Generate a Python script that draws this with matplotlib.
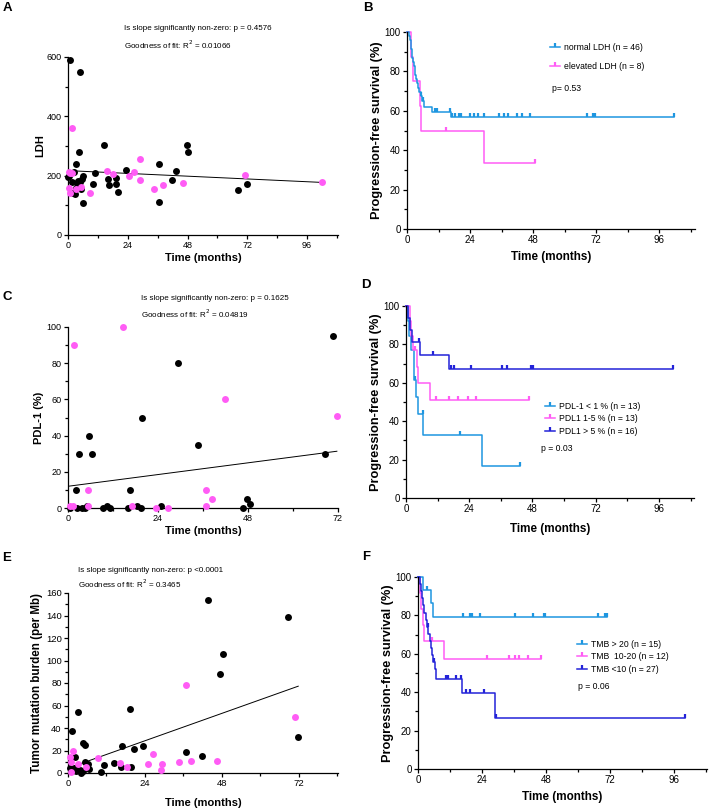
import numpy as np
import matplotlib
matplotlib.use("Agg")
import matplotlib.pyplot as plt
from matplotlib.ticker import MultipleLocator
from matplotlib.lines import Line2D

plt.rcParams['font.family'] = ['Liberation Sans', 'DejaVu Sans']

BLACK = '#000000'
PINK = '#ff5cf5'
LBLUE = '#1e96e0'
DBLUE = '#2323d8'

# ---- A: LDH vs time ----
ldh_black_t = [1, 4.7, 4.3, 3.1, 14.4, 47.7, 48.3, 36.7, 43.4, 41.6, 23.2, 11, 10.2, 16.1, 16.5,
               19.3, 19.3, 20.1, 36.5, 6, 68.2, 71.8, 0, 0.6, 2.6, 1.5, 2, 2.8, 3.6, 4.2, 4.9,
               5.3, 5.7, 6.1, 3.3]
ldh_black_v = [590, 550, 280, 240, 305, 305, 280, 240, 215, 185, 220, 210, 172, 188, 170,
               193, 173, 146, 111, 107, 152, 173, 196, 198, 214, 180, 140, 138, 174, 183, 179,
               155, 190, 200, 160]
ldh_pink_t = [1.7, 0.3, 0.9, 1.7, 0.3, 0.7, 3.1, 5.2, 9, 15.7, 18.1, 24.6, 26.3, 28.9, 29, 34.5,
              38.3, 46.3, 70.9, 101.8]
ldh_pink_v = [360, 211, 210, 208, 160, 140, 154, 163, 140, 216, 205, 198, 212, 256, 185, 155,
              170, 174, 203, 177]
ldh_fit = (217, -0.39)  # intercept, slope

# ---- C: PDL-1 vs time ----
pdl_black_t = [70.7, 29.4, 19.6, 5.6, 3.0, 6.3, 34.7, 68.6, 2.0, 16.6, 47.7, 48.4, 46.6, 24.9,
               18.3, 19.5, 16.1, 0.6, 2.4, 3.6, 4.5, 5.1, 9.4, 10.4, 11.3]
pdl_black_v = [95, 80, 50, 40, 30, 30, 35, 30, 10, 10, 5, 2, 0, 1, 1, 0, 0, 0, 0, 0, 0, 1, 0, 1, 0]
pdl_pink_t = [1.5, 14.6, 41.8, 71.7, 5.2, 36.8, 38.3, 36.8, 17, 23.5, 26.6, 0.4, 1.3, 5.4]
pdl_pink_v = [90, 100, 60, 51, 10, 10, 5, 1, 1, 0, 0, 1, 1, 1]
pdl_fit = (12, 0.27)

# ---- E: TMB vs time ----
tmb_black_t = [43.6, 68.6, 48.3, 47.5, 19.4, 3.2, 1.4, 71.8, 4.7, 5.4, 16.8, 23.5, 20.5, 36.7,
               41.7, 2.1, 5.2, 6.2, 11.2, 14.5, 16.6, 19.5, 6.5, 10.4, 0.5, 1.8, 2.8, 3.6, 3.9,
               4.7, 2.4]
tmb_black_v = [154, 139, 106, 88, 57, 54, 37, 32, 26.5, 25, 24, 24, 21, 19, 15, 14, 10, 8, 7, 9,
               5, 5, 4, 1, 4.5, 4.5, 3, 2.4, 0, 2, 1.5]
tmb_pink_t = [36.7, 70.7, 1.6, 0.5, 0.8, 9.4, 26.5, 16.1, 24.9, 29.4, 34.6, 38.3, 46.5, 29, 18.3,
              1, 3.1, 5.5]
tmb_pink_v = [78, 50, 20, 14, 10, 13, 17, 9, 8, 8, 10, 11, 11, 3, 5, 1, 8, 5]
tmb_fit = (4.3, 1.015)

# ---- B: PFS by LDH ----
b_norm_t = [0, 0.6, 1.0, 1.4, 1.8, 2.2, 2.6, 3.0, 3.4, 3.8, 4.2, 4.7, 5.2, 5.8, 6.4, 9.6, 16.6]
b_norm_s = [100, 97.8, 95.7, 91.3, 87.0, 84.8, 82.6, 78.3, 76.1, 73.9, 71.7, 69.6, 67.4, 65.2,
            61.9, 59.5, 56.7]
b_norm_c = [5.3, 6.2, 10.5, 11.3, 16.3, 17.1, 18.4, 19.7, 20.7, 24.1, 25.4, 26.9, 29.5, 34.9,
            37.0, 38.4, 41.8, 43.7, 46.7, 68.7, 70.8, 71.6, 101.8]
b_elev_t = [0, 1.6, 2.3, 4.8, 5.2, 29.2]
b_elev_s = [100, 87.5, 75, 62.5, 50, 33.3]
b_elev_c = [14.8, 48.6]
b_labels = ['normal LDH (n = 46)', 'elevated LDH (n = 8)']

# ---- D: PFS by PDL-1 ----
d_low_t = [0, 0.6, 1.1, 2.0, 3.0, 3.9, 4.6, 6.5, 28.8]
d_low_s = [100, 92.3, 84.6, 76.9, 61.5, 52.7, 43.9, 32.9, 16.5]
d_low_c = [3.4, 6.3, 20.5, 43.3]
d_mid_t = [0, 1.4, 2.0, 2.8, 4.0, 4.7, 9.2]
d_mid_s = [100, 92.3, 84.6, 76.9, 68.4, 59.8, 51.3]
d_mid_c = [3.3, 11.4, 16.2, 19.6, 23.5, 26.5, 46.5]
d_high_t = [0, 0.6, 1.5, 2.1, 5.2, 16.3]
d_high_s = [100, 93.75, 87.5, 81.25, 74.5, 67.0]
d_high_c = [5.0, 10.4, 17.1, 18.3, 24.8, 36.5, 38.3, 47.5, 48.1, 101.4]
d_labels = ['PDL-1 < 1 % (n = 13)', 'PDL1 1-5 % (n = 13)', 'PDL1 > 5 % (n = 16)']

# ---- F: PFS by TMB ----
f_high_t = [0, 1.9, 4.75, 5.6]
f_high_s = [100, 93.3, 86.2, 79.0]
f_high_c = [3.4, 16.9, 19.4, 20.3, 23.4, 36.5, 43.1, 47.1, 47.8, 67.5, 70.0, 70.9]
f_mid_t = [0, 0.75, 1.25, 1.75, 2.25, 9.75]
f_mid_s = [100, 91.7, 83.3, 75.0, 66.7, 57.1]
f_mid_c = [5.25, 26, 34, 36.25, 37.9, 41.25, 46]
f_low_t = [0, 0.8, 1.2, 1.6, 2.0, 2.4, 3.0, 3.4, 3.9, 4.5, 5.0, 5.3, 5.8, 6.3, 6.8, 16.4, 28.9]
f_low_s = [100, 96.3, 92.6, 88.9, 85.2, 81.5, 77.8, 74.1, 70.4, 66.7, 63.0, 59.3, 55.6, 51.9,
           46.7, 39.7, 26.5]
f_low_c = [3.6, 5.9, 10.6, 11.25, 14.4, 16.0, 18.1, 19.4, 24.75, 29.1, 100]
f_labels = ['TMB > 20 (n = 15)', 'TMB  10-20 (n = 12)', 'TMB <10 (n = 27)']

W, H = 709, 809
fig = plt.figure(figsize=(W / 100, H / 100), dpi=100)


def box(l, t, r, b):
    return [l / W, 1 - b / H, (r - l) / W, (b - t) / H]


def style(ax, xmax, ymax, ymaj, ymin, tsize):
    for s in ['top', 'right']:
        ax.spines[s].set_visible(False)
    for s in ['left', 'bottom']:
        ax.spines[s].set_linewidth(0.9)
    ax.set_xlim(0, xmax)
    ax.set_ylim(0, ymax)
    ax.xaxis.set_major_locator(MultipleLocator(24))
    ax.xaxis.set_minor_locator(MultipleLocator(12))
    ax.yaxis.set_major_locator(MultipleLocator(ymaj))
    ax.yaxis.set_minor_locator(MultipleLocator(ymin))
    ax.tick_params(which='major', direction='out', length=3, width=0.9, labelsize=tsize, pad=1.5)
    ax.tick_params(which='minor', direction='out', length=2, width=0.9)


def scatter_panel(ax, bt, bv, pt, pv, fit):
    xs = np.array([0, max(bt + pt)])
    ax.plot(xs, fit[0] + fit[1] * xs, color='black', lw=0.7, zorder=1)
    ax.scatter(bt, bv, s=25, color=BLACK, zorder=3, clip_on=False, linewidths=0)
    ax.scatter(pt, pv, s=25, color=PINK, zorder=3, clip_on=False, linewidths=0)


def km(ax, t, s, cens, color):
    t = list(t) + [max(max(cens), t[-1])]
    s = list(s) + [s[-1]]
    ax.step(t, s, where='post', color=color, lw=1.1, clip_on=False)
    idx = np.searchsorted(t, cens, side='right') - 1
    cy = np.array(s)[idx]
    ax.plot(cens, cy, ls='none', marker=2, ms=3.2, mew=1.6, color=color, clip_on=False)


def km_legend(ax, colors, labels, x, y, spacing):
    hs = [Line2D([], [], color=c, lw=1.1, marker=2, ms=3.2, mew=1.6) for c in colors]
    ax.legend(hs, labels, loc='upper left', bbox_to_anchor=(x, y), frameon=False,
              fontsize=6.2, handlelength=1.2, handletextpad=0.45, borderpad=0,
              borderaxespad=0, labelspacing=spacing, numpoints=1)


# A
axA = fig.add_axes(box(68, 57, 338, 235))
scatter_panel(axA, ldh_black_t, ldh_black_v, ldh_pink_t, ldh_pink_v, ldh_fit)
style(axA, 108.4, 600, 200, 100, 6.5)
axA.set_xlabel('Time (months)', fontsize=8, fontweight='bold', labelpad=2)
axA.set_ylabel('LDH', fontsize=8, fontweight='bold', labelpad=1)

# C
axC = fig.add_axes(box(68, 327, 338, 508))
scatter_panel(axC, pdl_black_t, pdl_black_v, pdl_pink_t, pdl_pink_v, pdl_fit)
style(axC, 72, 100, 20, 10, 6.5)
axC.set_xlabel('Time (months)', fontsize=8, fontweight='bold', labelpad=2)
axC.set_ylabel('PDL-1 (%)', fontsize=8, fontweight='bold', labelpad=2)

# E
axE = fig.add_axes(box(68, 593, 338, 773))
scatter_panel(axE, tmb_black_t, tmb_black_v, tmb_pink_t, tmb_pink_v, tmb_fit)
style(axE, 84.2, 160, 20, 10, 6.8)
axE.set_xlabel('Time (months)', fontsize=8, fontweight='bold', labelpad=7)
axE.set_ylabel('Tumor mutation burden (per Mb)', fontsize=8.4, fontweight='bold', labelpad=2)

# B
axB = fig.add_axes(box(407, 32, 695, 229))
km(axB, b_elev_t, b_elev_s, b_elev_c, PINK)
km(axB, b_norm_t, b_norm_s, b_norm_c, LBLUE)
style(axB, 109.7, 100, 20, 10, 7)
axB.set_xlabel('Time (months)', fontsize=8.4, fontweight='bold', labelpad=4)
axB.set_ylabel('Progression-free survival (%)', fontsize=9.2, fontweight='bold', labelpad=1)
km_legend(axB, [LBLUE, PINK], b_labels, 0.497, 0.945, 1.15)
axB.text(0.503, 0.711, 'p= 0.53', transform=axB.transAxes, fontsize=6.2, va='center')

# D
axD = fig.add_axes(box(406, 306, 694, 498))
km(axD, d_low_t, d_low_s, d_low_c, LBLUE)
km(axD, d_mid_t, d_mid_s, d_mid_c, PINK)
km(axD, d_high_t, d_high_s, d_high_c, DBLUE)
style(axD, 109.3, 100, 20, 10, 7)
axD.set_xlabel('Time (months)', fontsize=8.4, fontweight='bold', labelpad=6)
axD.set_ylabel('Progression-free survival (%)', fontsize=9.2, fontweight='bold', labelpad=1)
km_legend(axD, [LBLUE, PINK, DBLUE], d_labels, 0.483, 0.50, 0.38)
axD.text(0.469, 0.26, 'p = 0.03', transform=axD.transAxes, fontsize=6.2, va='center')

# F
axF = fig.add_axes(box(418, 577, 707, 769))
km(axF, f_mid_t, f_mid_s, f_mid_c, PINK)
km(axF, f_high_t, f_high_s, f_high_c, LBLUE)
km(axF, f_low_t, f_low_s, f_low_c, DBLUE)
style(axF, 108.4, 100, 20, 10, 7)
axF.set_xlabel('Time (months)', fontsize=8.4, fontweight='bold', labelpad=4)
axF.set_ylabel('Progression-free survival (%)', fontsize=9.2, fontweight='bold', labelpad=1)
km_legend(axF, [LBLUE, PINK, DBLUE], f_labels, 0.55, 0.672, 0.38)
axF.text(0.554, 0.432, 'p = 0.06', transform=axF.transAxes, fontsize=6.2, va='center')

# annotations
notes = [
    (124, 29, 'Is slope significantly non-zero: p = 0.4576'),
    (124, 45, 'Goodness of fit: R$^2$ = 0.01066'),
    (141, 298, 'Is slope significantly non-zero: p = 0.1625'),
    (141, 314, 'Goodness of fit: R$^2$ = 0.04819'),
    (78, 571, 'Is slope significantly non-zero: p <0.0001'),
    (78, 584, 'Goodness of fit: R$^2$ = 0.3465'),
]
for x, y, s in notes:
    fig.text(x / W, 1 - y / H, s, fontsize=5.8, va='center', ha='left')

letters = [(7, 8, 'A'), (368, 8, 'B'), (7, 297, 'C'), (366, 285, 'D'), (7, 558, 'E'), (366, 557, 'F')]
for x, y, s in letters:
    fig.text(x / W, 1 - y / H, s, fontsize=9.5, fontweight='bold', va='center', ha='center')

fig.savefig('out.png', dpi=100)
